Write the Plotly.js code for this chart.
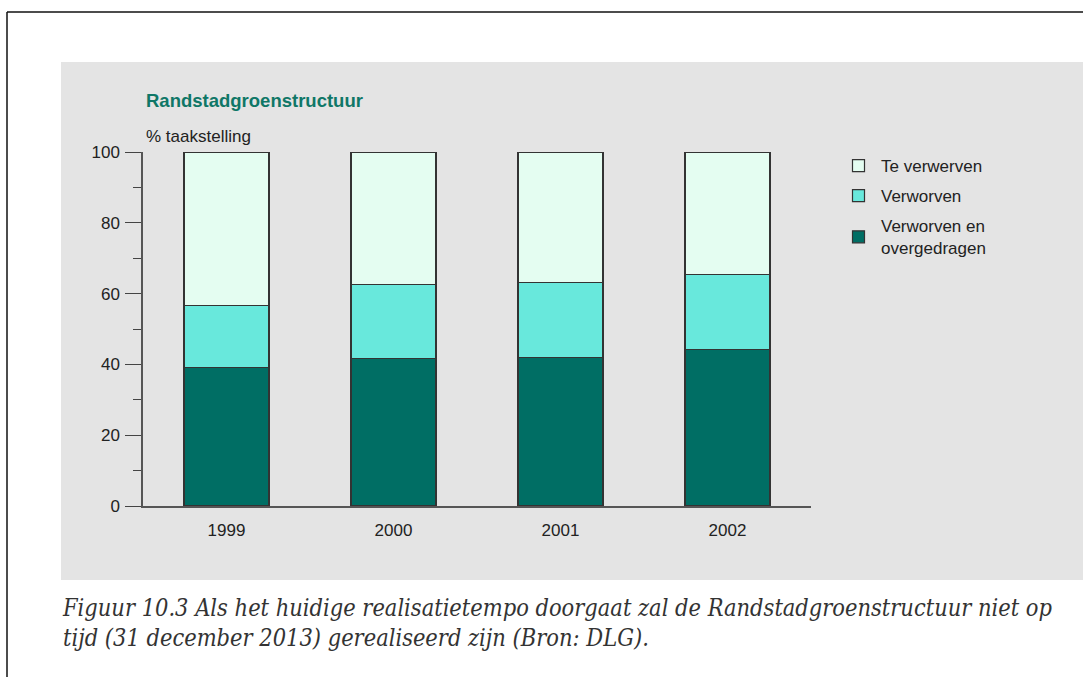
<!DOCTYPE html>
<html>
<head>
<meta charset="utf-8">
<script src="https://cdn.plot.ly/plotly-3.0.1.min.js"></script>
<style>
html,body{margin:0;padding:0;background:#fff;}
#chart{width:1083px;height:677px;}
</style>
</head>
<body>
<div id="chart"></div>
<script>
// ---- data ----
const years = ["1999", "2000", "2001", "2002"];
const overgedragen = [39.2, 41.6, 42.0, 44.2];   // Verworven en overgedragen
const verworven = [17.4, 21.0, 21.2, 21.2];      // Verworven
const teVerwerven = [43.4, 37.4, 36.8, 34.6];    // Te verwerven
const seriesNames = ["Verworven en<br>overgedragen", "Verworven", "Te verwerven"];
const yTicks = [0, 20, 40, 60, 80, 100];
const chartTitle = "Randstadgroenstructuur";
const yLabel = "% taakstelling";
const caption = "Figuur 10.3 Als het huidige realisatietempo doorgaat zal de Randstadgroenstructuur niet op<br>tijd (31 december 2013) gerealiseerd zijn (Bron: DLG).";

// ---- layout geometry (pixels) ----
const W = 1083, H = 677;
const L = 143, R = 811, T = 152, B = 506;
const px = x => (x - L) / (R - L);
const py = y => (B - y) / (B - T);

const colors = ["#006e64", "#68e8dc", "#e4fdf1"];
const outline = {color: "#333333", width: 1.2};
const vals = [overgedragen, verworven, teVerwerven];
const FONT = "Liberation Sans, Arial, sans-serif";

const traces = vals.map((v, i) => ({
  type: "bar",
  x: years,
  y: v,
  name: seriesNames[i],
  marker: {color: colors[i], line: outline},
  legendgroup: "g" + i,
  legendrank: 1000 - i,
  hoverinfo: "x+y+name"
}));

const layout = {
  width: W, height: H,
  margin: {l: L, r: W - R, t: T, b: H - B, pad: 0},
  paper_bgcolor: "#ffffff",
  plot_bgcolor: "#ffffff",
  barmode: "stack",
  bargap: 0.49,
  font: {family: FONT, size: 17, color: "#222"},
  showlegend: true,
  legend: {
    x: px(836), y: py(148), xanchor: "left", yanchor: "top",
    traceorder: "grouped",
    tracegroupgap: 5,
    bgcolor: "rgba(0,0,0,0)",
    font: {family: FONT, size: 17, color: "#222"},
    itemwidth: 35
  },
  xaxis: {
    type: "category",
    showline: true, linecolor: "#555", linewidth: 1.5,
    ticks: "", showgrid: false, zeroline: false,
    tickfont: {size: 17, color: "#222"},
    ticklabelstandoff: 8
  },
  yaxis: {
    range: [0, 100],
    tickvals: yTicks,
    ticks: "outside", ticklen: 16, tickcolor: "#444", tickwidth: 1.2,
    minor: {dtick: 10, tick0: 0, ticks: "outside", ticklen: 8, tickcolor: "#444", tickwidth: 1.2},
    showline: true, linecolor: "#555", linewidth: 1.5,
    showgrid: false, zeroline: false,
    tickfont: {size: 17, color: "#222"},
    ticklabelstandoff: 2
  },
  shapes: [
    // grey panel
    {type: "rect", xref: "paper", yref: "paper", layer: "below",
     x0: px(61), x1: px(1090), y0: py(580), y1: py(62),
     fillcolor: "#e4e4e4", line: {width: 0}},
    // outer frame
    {type: "line", xref: "paper", yref: "paper",
     x0: px(7), x1: px(7), y0: py(690), y1: py(12), line: {color: "#111", width: 1.5}},
    {type: "line", xref: "paper", yref: "paper",
     x0: px(7), x1: px(1090), y0: py(12), y1: py(12), line: {color: "#111", width: 1.5}}
  ],
  annotations: [
    {text: "<b>" + chartTitle + "</b>", xref: "paper", yref: "paper",
     x: px(144), y: py(100), xanchor: "left", yanchor: "middle", showarrow: false,
     font: {size: 18.5, color: "#0f7767", family: FONT}},
    {text: yLabel, xref: "paper", yref: "paper",
     x: px(144), y: py(137), xanchor: "left", yanchor: "middle", showarrow: false,
     font: {size: 17, color: "#222", family: FONT}},
    {text: "<i>" + caption + "</i>", xref: "paper", yref: "paper",
     x: px(60), y: py(592), xanchor: "left", yanchor: "top", showarrow: false, align: "left",
     font: {size: 23.4, color: "#333", family: "DejaVu Serif Condensed, DejaVu Serif, serif"}}
  ]
};

Plotly.newPlot("chart", traces, layout, {displayModeBar: false});
</script>
</body>
</html>
